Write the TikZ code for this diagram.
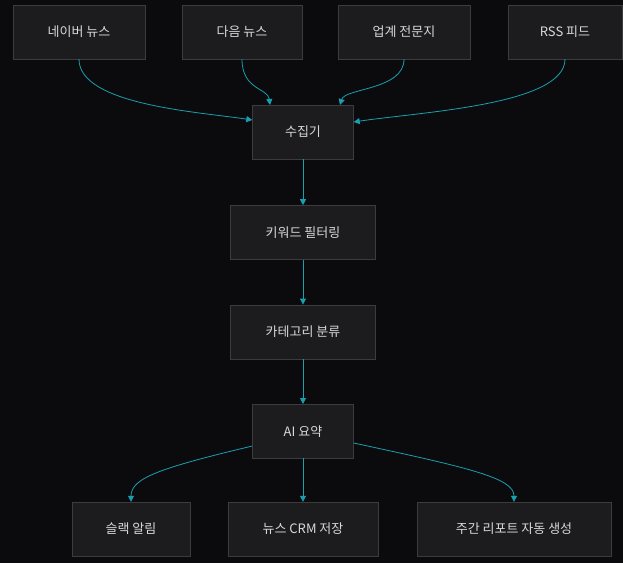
\documentclass[tikz,border=0pt]{standalone}
\usepackage{fontspec}
\setmainfont{Noto Sans CJK KR}
\usetikzlibrary{arrows.meta, positioning}
\definecolor{bgdark}{HTML}{0B0B0E}
\definecolor{boxfill}{HTML}{1C1C1E}
\definecolor{boxline}{HTML}{3C3C3E}
\definecolor{flowline}{HTML}{1A9FB0}
\definecolor{labeltext}{HTML}{D8D8D8}
\tikzset{
    stage/.style={
        rectangle,
        draw=boxline,
        fill=boxfill,
        minimum height=54pt,
        text=labeltext,
        font=\fontsize{13}{15}\selectfont
    },
    flow/.style={
        draw=flowline,
        line width=0.8pt,
        -{Triangle[length=6pt,width=6pt]}
    }
}
\begin{document}
\begin{tikzpicture}[x=1pt,y=-1pt]
\fill[bgdark] (0,0) rectangle (623,563);
\useasboundingbox (0,0) rectangle (623,563);

% sources
\node[stage, minimum width=132pt] (naver) at (79,32) {네이버 뉴스};
\node[stage, minimum width=120pt] (daum) at (242,32) {다음 뉴스};
\node[stage, minimum width=132pt] (trade) at (404,32) {업계 전문지};
\node[stage, minimum width=114pt] (rss) at (565,32) {RSS 피드};

% pipeline
\node[stage, minimum width=101pt] (collect) at (303,132) {수집기};
\node[stage, minimum width=145pt, below=46pt of collect] (filter) {키워드 필터링};
\node[stage, minimum width=145pt, below=45pt of filter] (classify) {카테고리 분류};
\node[stage, minimum width=101pt, below=45pt of classify] (summary) {AI 요약};

% outputs
\node[stage, minimum width=118pt] (slack) at (131,529) {슬랙 알림};
\node[stage, minimum width=150pt] (crm) at (303,529) {뉴스 CRM 저장};
\node[stage, minimum width=194pt] (report) at (514,529) {주간 리포트 자동 생성};

\draw[flow] (naver.south) .. controls (79,105) and (200,112) .. (collect.west |- 0,120);
\draw[flow] (daum.south) .. controls (242,90) and (268,88) .. (270,105);
\draw[flow] (trade.south) .. controls (404,90) and (345,88) .. (340,105);
\draw[flow] (rss.south) .. controls (565,105) and (420,112) .. (collect.east |- 0,122);
\draw[flow] (collect) -- (filter);
\draw[flow] (filter) -- (classify);
\draw[flow] (classify) -- (summary);
\draw[flow] (summary.west |- 0,446) .. controls (160,468) and (131,478) .. (slack.north);
\draw[flow] (summary) -- (crm);
\draw[flow] (summary.east |- 0,443) .. controls (470,468) and (514,478) .. (report.north);
\end{tikzpicture}
\end{document}
